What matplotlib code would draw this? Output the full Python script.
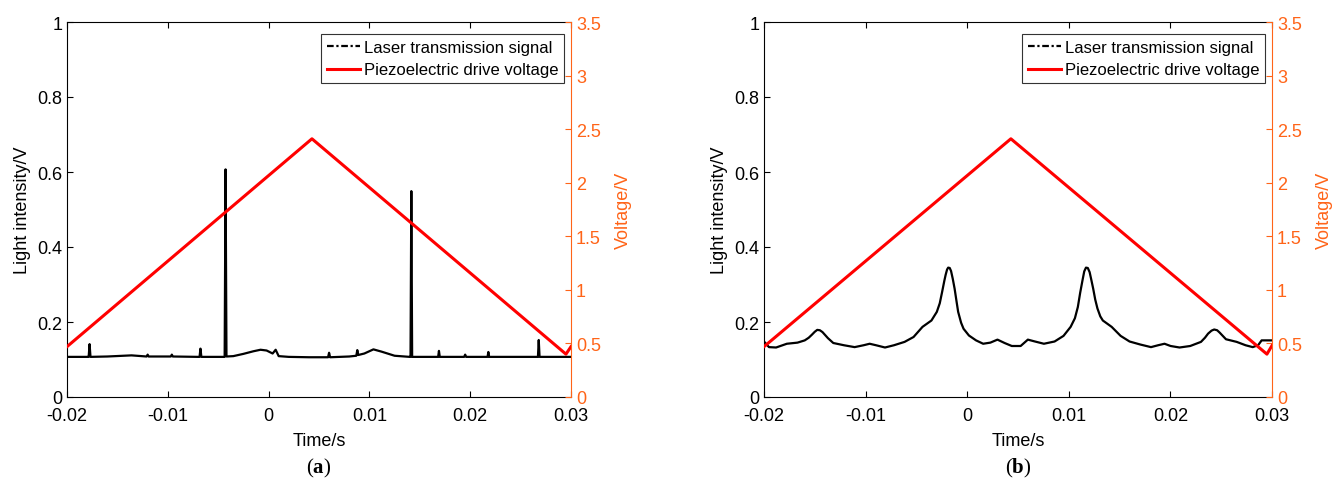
import matplotlib
matplotlib.use("Agg")
import matplotlib.pyplot as plt
from matplotlib.lines import Line2D
from matplotlib.ticker import FuncFormatter

plt.rcParams.update({
    "font.family": ["Liberation Sans", "DejaVu Sans"],
    "axes.unicode_minus": False,
    "mathtext.fontset": "custom",
    "mathtext.rm": "Liberation Serif",
    "mathtext.bf": "Liberation Serif:bold",
})

ORANGE = "#FF6418"
RED = "#FF0000"

# ---- panel (a): laser transmission signal (sharp resonance spikes) ----
time_a = [-0.0200, -0.0180, -0.01785, -0.01776, -0.01767, -0.0160, -0.0136, -0.0121, -0.0120,
          -0.0119, -0.0097, -0.0096, -0.0095, -0.0070, -0.00685, -0.00676, -0.00667,
          -0.0050, -0.00436, -0.00427, -0.00418, -0.0035, -0.0025, -0.0015, -0.0008,
          -0.0002, 0.0004, 0.0007, 0.0010, 0.0020, 0.0040, 0.0059, 0.0060, 0.0061,
          0.0080, 0.0087, 0.0088, 0.0089, 0.0095, 0.0104, 0.0112, 0.0125, 0.0140,
          0.01408, 0.01416, 0.01424, 0.0160, 0.01682, 0.0169, 0.01698, 0.0194, 0.0195,
          0.0196, 0.02172, 0.0218, 0.02188, 0.0250, 0.02672, 0.0268, 0.02688, 0.0285, 0.0300]
signal_a = [0.107, 0.107, 0.107, 0.141, 0.107, 0.108, 0.111, 0.108, 0.113,
            0.108, 0.108, 0.113, 0.108, 0.107, 0.107, 0.129, 0.107,
            0.107, 0.107, 0.607, 0.108, 0.109, 0.115, 0.122, 0.126,
            0.124, 0.116, 0.126, 0.109, 0.107, 0.106, 0.106, 0.118, 0.106,
            0.108, 0.110, 0.125, 0.112, 0.116, 0.127, 0.121, 0.110, 0.107,
            0.107, 0.549, 0.107, 0.107, 0.107, 0.123, 0.107, 0.107, 0.113,
            0.107, 0.107, 0.120, 0.107, 0.107, 0.107, 0.152, 0.107, 0.107, 0.107]

# ---- panel (b): laser transmission signal (broadened peaks) ----
time_b = [-0.02000, -0.01951, -0.01881, -0.01775, -0.01670, -0.01599, -0.01560, -0.01529,
          -0.01500, -0.01476, -0.01450, -0.01424, -0.01371, -0.01318, -0.01213, -0.01108,
          -0.01020, -0.00960, -0.00897, -0.00809, -0.00721, -0.00616, -0.00528, -0.00440,
          -0.00352, -0.00299, -0.00270, -0.00247, -0.00225, -0.00212, -0.00198, -0.00187,
          -0.00172, -0.00159, -0.00142, -0.00124, -0.00105, -0.00089, -0.00060, -0.00036,
          0.00017, 0.00087, 0.00157, 0.00228, 0.00298, 0.00368, 0.00439, 0.00526,
          0.00597, 0.00667, 0.00755, 0.00860, 0.00948, 0.01018, 0.01060, 0.01089,
          0.01112, 0.01134, 0.01152, 0.01169, 0.01187, 0.01205, 0.01222, 0.01240,
          0.01260, 0.01282, 0.01310, 0.01335, 0.01422, 0.01510, 0.01598, 0.01703,
          0.01809, 0.01879, 0.01942, 0.02002, 0.02090, 0.02195, 0.02301, 0.02340,
          0.02371, 0.02405, 0.02431, 0.02460, 0.02484, 0.02547, 0.02652, 0.02740,
          0.02810, 0.02863, 0.02898, 0.03000]
signal_b = [0.148, 0.133, 0.132, 0.142, 0.145, 0.151, 0.158, 0.166,
            0.174, 0.179, 0.178, 0.173, 0.157, 0.144, 0.138, 0.133,
            0.138, 0.142, 0.138, 0.132, 0.138, 0.147, 0.160, 0.187,
            0.204, 0.227, 0.250, 0.280, 0.310, 0.326, 0.340, 0.345,
            0.344, 0.336, 0.315, 0.289, 0.255, 0.227, 0.198, 0.182,
            0.164, 0.151, 0.142, 0.145, 0.153, 0.144, 0.136, 0.136,
            0.153, 0.148, 0.142, 0.148, 0.163, 0.187, 0.210, 0.240,
            0.278, 0.310, 0.335, 0.345, 0.344, 0.333, 0.312, 0.289,
            0.260, 0.236, 0.215, 0.204, 0.187, 0.163, 0.148, 0.140,
            0.133, 0.138, 0.142, 0.136, 0.132, 0.136, 0.147, 0.158,
            0.169, 0.177, 0.180, 0.178, 0.172, 0.154, 0.147, 0.138,
            0.133, 0.138, 0.151, 0.151]

# ---- piezoelectric drive voltage (triangle ramp) ----
time_v = [-0.0200, 0.0043, 0.0295, 0.0300]
volt_a = [0.47, 2.41, 0.40, 0.47]
volt_b = [0.47, 2.41, 0.40, 0.48]

panels = [
    ("a", time_a, signal_a, volt_a, [67 / 1338, 91 / 489, 504 / 1338, 375 / 489]),
    ("b", time_b, signal_b, volt_b, [764 / 1338, 91 / 489, 508 / 1338, 375 / 489]),
]

fmt = FuncFormatter(lambda v, p: f"{v:g}")

fig = plt.figure(figsize=(13.38, 4.89), dpi=100)
for tag, t, sig, volt, rect in panels:
    ax = fig.add_axes(rect)
    ax.plot(t, sig, color="black", linewidth=1.6)
    ax.set_xlim(-0.02, 0.03)
    ax.set_ylim(0, 1)
    ax.set_xticks([-0.02, -0.01, 0, 0.01, 0.02, 0.03])
    ax.set_yticks([0, 0.2, 0.4, 0.6, 0.8, 1])
    ax.xaxis.set_major_formatter(fmt)
    ax.yaxis.set_major_formatter(fmt)
    ax.tick_params(direction="in", length=4, width=0.8, labelsize=13, top=True, right=False)
    ax.tick_params(axis="x", pad=7)
    ax.set_xlabel("Time/s", fontsize=13, labelpad=6)
    ax.set_ylabel("Light intensity/V", fontsize=13, labelpad=4)
    ax.spines["right"].set_visible(False)

    ax2 = ax.twinx()
    ax2.plot(time_v, volt, color=RED, linewidth=2.2)
    ax2.set_xlim(-0.02, 0.03)
    ax2.set_ylim(0, 3.5)
    ax2.set_yticks([0, 0.5, 1, 1.5, 2, 2.5, 3, 3.5])
    ax2.yaxis.set_major_formatter(fmt)
    ax2.tick_params(axis="y", direction="in", length=4, width=0.8, labelsize=13,
                    colors=ORANGE)
    ax2.spines["right"].set_color(ORANGE)
    for s in ("left", "top", "bottom"):
        ax2.spines[s].set_visible(False)
    ax2.set_ylabel("Voltage/V", fontsize=13, color=ORANGE, labelpad=10)

    handles = [Line2D([], [], color="black", linewidth=1.6, linestyle=(0, (3, 1.2, 1, 1.2))),
               Line2D([], [], color=RED, linewidth=2.2)]
    leg = ax2.legend(handles, ["Laser transmission signal", "Piezoelectric drive voltage"],
                     loc="upper right", bbox_to_anchor=(1 - 7 / 504, 1 - 12 / 375),
                     fontsize=12, frameon=True, fancybox=False,
                     framealpha=1, edgecolor="#333333", borderpad=0.35,
                     handlelength=2.0, handletextpad=0.2, labelspacing=0.45,
                     borderaxespad=0)
    leg.get_frame().set_linewidth(0.8)

    fig.text(rect[0] + rect[2] / 2, 21 / 489, rf"$\mathrm{{(}}\mathbf{{{tag}}}\mathrm{{)}}$",
             ha="center", va="center", fontsize=15)

fig.savefig("out.png", dpi=100, facecolor="white")
